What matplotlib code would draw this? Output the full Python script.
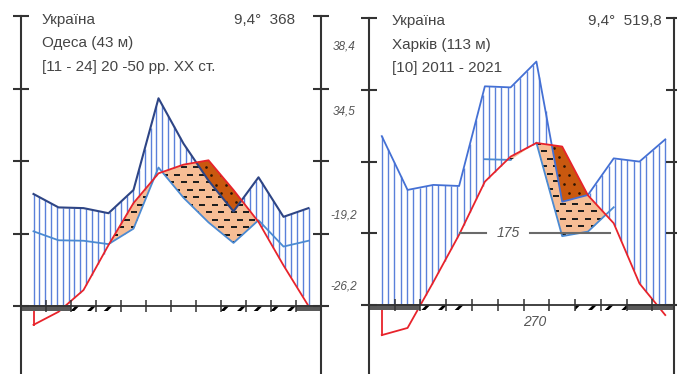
import numpy as np
import matplotlib
matplotlib.use('Agg')
import matplotlib.pyplot as plt
from matplotlib.patches import Rectangle, PathPatch
from matplotlib.path import Path

plt.rcParams['font.family'] = ['Liberation Sans', 'DejaVu Sans']
plt.rcParams['hatch.linewidth'] = 2.0

# ---------------- data ----------------
month_pos = np.arange(12) + 0.5

odesa_temp = [-2.6, -0.8, 2.2, 8.4, 14.2, 18.3, 19.5, 20.1, 16.0, 11.6, 5.6, 0.0]
odesa_prec = [30.9, 27.2, 27.0, 25.6, 32.0, 57.3, 44.8, 34.6, 26.1, 35.5, 24.6, 27.0]
odesa_frost = [1, 2, 12]
odesa_prob_frost = [3, 4, 9, 10, 11]
odesa_title = ["Україна", "Одеса (43 м)", "[11 - 24] 20 -50 рр. ХХ ст."]
odesa_summary = "9,4°  368"

kharkiv_temp = [-4.2, -3.2, 3.2, 9.8, 17.2, 20.7, 22.6, 22.1, 15.3, 11.4, 3.0, -1.4]
kharkiv_prec = [47.1, 32.1, 33.5, 33.2, 61.0, 60.7, 67.9, 28.8, 30.7, 40.9, 40.0, 46.2]
kharkiv_frost = [1, 2, 11, 12]
kharkiv_prob_frost = [3, 4, 9, 10]
kharkiv_title = ["Україна", "Харків (113 м)", "[10] 2011 - 2021"]
kharkiv_summary = "9,4°  519,8"

extreme_labels = ["38,4", "34,5", "-19,2", "-26,2"]
kharkiv_days_10 = "175"
kharkiv_frostfree = "270"

W, H = 677, 374
fig = plt.figure(figsize=(W / 100, H / 100), dpi=100)

TXT = '#454545'
AX = '#333333'


def clip_patch(ax, coll):
    paths = coll.get_paths()
    if not paths:
        return None
    cp = Path.make_compound_path(*paths)
    patch = PathPatch(cp, transform=ax.transData, facecolor='none', edgecolor='none')
    ax.add_patch(patch)
    return patch


def pattern(ax, clip, pxm, pxd, dxp, dyp, z, **kw):
    dx, dy = dxp / pxm, dyp / pxd
    gx, gy = [], []
    for r, yy in enumerate(np.arange(dy / 2, 35, dy)):
        off = (dx / 2) * (r % 2)
        for xx in np.arange(off, 12, dx):
            gx.append(xx)
            gy.append(yy)
    ln, = ax.plot(gx, gy, ls='none', zorder=z, **kw)
    ln.set_clip_path(clip)


def panel(ax, temp, prec, frost, prob, xmax, ylim, pxm, pxd, hatch_n,
          dark_col, dark_lw, light_segs):
    t = np.array(temp, float)
    p = np.array(prec, float)
    p2 = p / 2.0
    p3 = p / 3.0
    ax.set_xlim(0, xmax)
    ax.set_ylim(*ylim)

    # semi-arid area (T above P at 3:1 scale)
    lo = ax.fill_between(month_pos, t, p3, where=t > p3, interpolate=True,
                         facecolor='#f6bd95', edgecolor='none', zorder=1)
    cl = clip_patch(ax, lo)
    if cl is not None:
        pattern(ax, cl, pxm, pxd, 12.5, 7.5, 1.5, marker='_', ms=4.3, mew=1.15,
                color='#1e1e1e')

    # arid area (T above P at 2:1 scale)
    da = ax.fill_between(month_pos, t, p2, where=t > p2, interpolate=True,
                         facecolor='#c9580f', edgecolor='none', zorder=2)
    cl2 = clip_patch(ax, da)
    if cl2 is not None:
        pattern(ax, cl2, pxm, pxd, 10, 9, 2.5, marker='.', ms=1.8,
                color='#2a1505')

    # humid area hatching
    hx = np.linspace(month_pos[0], month_pos[-1], hatch_n)
    top = np.interp(hx, month_pos, p2)
    bot = np.maximum(np.interp(hx, month_pos, t), 0)
    m = top > bot
    ax.vlines(hx[m], bot[m], top[m], color='#5a80da', lw=1.0, zorder=3)

    # precipitation lines
    for a, b in light_segs:
        ax.plot(month_pos[a:b + 1], p3[a:b + 1], color='#4b8ad2', lw=1.3, zorder=4)
    ax.plot(month_pos, p2, color=dark_col, lw=dark_lw, zorder=5)
    # temperature
    ax.plot(month_pos, t, color='#e8232b', lw=1.3, zorder=6)
    ax.plot([month_pos[0], month_pos[0]], [0, t[0]], color='#e8232b', lw=1.3, zorder=6)

    # frost bars
    for mo in frost:
        ax.add_patch(Rectangle((mo - 1, -0.75), 1, 0.95, facecolor='#5a5a5a',
                               edgecolor='none', zorder=7))
    for mo in prob:
        ax.add_patch(Rectangle((mo - 1, -0.72), 1, 0.72, facecolor='white',
                               edgecolor='black', lw=0, hatch='//', zorder=7))

    # axes styling
    ax.patch.set_visible(False)
    ax.spines['top'].set_visible(False)
    for s in ['left', 'right']:
        ax.spines[s].set_bounds(ylim[0], 40)
        ax.spines[s].set_linewidth(1.5)
        ax.spines[s].set_color(AX)
        ax.spines[s].set_zorder(9)
    ax.spines['bottom'].set_position(('data', 0))
    ax.spines['bottom'].set_linewidth(1.3)
    ax.spines['bottom'].set_color(AX)
    ax.spines['bottom'].set_zorder(9)
    ax.set_yticks([0, 10, 20, 30, 40])
    ax.set_xticks(range(1, 12))
    ax.tick_params(axis='y', left=True, right=True, direction='inout', length=12,
                   width=1.5, color=AX, labelleft=False, labelright=False)
    ax.tick_params(axis='x', bottom=True, direction='inout', length=9, width=1.1,
                   color=AX, labelbottom=False)
    ax.xaxis.set_zorder(9)
    ax.yaxis.set_zorder(9)
    return t


# left panel (Odesa)
axL = fig.add_axes([21 / W, 0, 300 / W, 1])
ylimL = (-(H - 306) / 7.25, 306 / 7.25)
panel(axL, odesa_temp, odesa_prec, odesa_frost, odesa_prob_frost, 12, ylimL,
      25.0, 7.25, 48, '#2e4585', 1.5, [(0, 11)])

# right panel (Kharkiv)
pxmR = 25.77
xmaxR = 11.82
axR = fig.add_axes([368.9 / W, 0, xmaxR * pxmR / W, 1])
ylimR = (-(H - 305) / 7.17, 305 / 7.17)
tR = panel(axR, kharkiv_temp, kharkiv_prec, kharkiv_frost, kharkiv_prob_frost, xmaxR,
           ylimR, pxmR, 7.17, 46, '#4470d4', 1.3, [(4, 5), (6, 9)])

# 10 °C period marker on the right panel
up = next(i for i in range(11) if tR[i] < 10 <= tR[i + 1])
dn = next(i for i in range(11) if tR[i] >= 10 > tR[i + 1])
x_up = month_pos[up] + (10 - tR[up]) / (tR[up + 1] - tR[up])
x_dn = month_pos[dn] + (10 - tR[dn]) / (tR[dn + 1] - tR[dn])
axR.plot([x_up, 4.55], [10, 10], color='#6a6a6a', lw=1.5, zorder=8)
axR.plot([6.25, x_dn - 0.3], [10, 10], color='#6a6a6a', lw=1.5, zorder=8)
axR.text(5.4, 10, kharkiv_days_10, ha='center', va='center', style='italic',
         fontsize=10, color='#555555', zorder=8)
axR.text(6.45, -2.35, kharkiv_frostfree, ha='center', va='center', style='italic',
         fontsize=10, color='#555555', zorder=8)


def ftext(x, y, s, **kw):
    fig.text(x / W, 1 - y / H, s, **kw)


for i, s in enumerate(odesa_title):
    ftext(42, 20 + i * 23.5, s, ha='left', va='center', fontsize=11, color=TXT)
ftext(295, 20, odesa_summary, ha='right', va='center', fontsize=11, color=TXT)
for i, s in enumerate(kharkiv_title):
    ftext(392, 21 + i * 23.5, s, ha='left', va='center', fontsize=11, color=TXT)
ftext(662, 21, kharkiv_summary, ha='right', va='center', fontsize=11, color=TXT)

for s, yy in zip(extreme_labels, [46.7, 111.7, 215, 286.7]):
    ftext(344, yy, s, ha='center', va='center', style='italic', fontsize=8.5,
          color='#555555')

fig.savefig('out.png', dpi=100)
